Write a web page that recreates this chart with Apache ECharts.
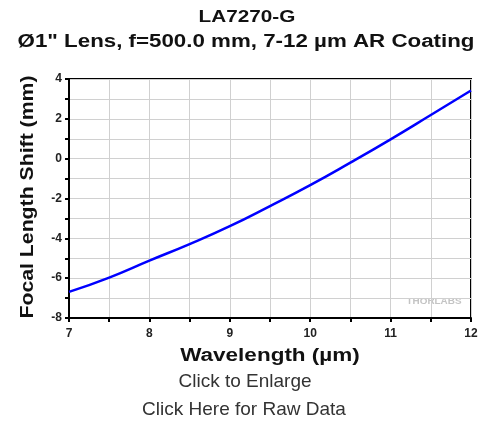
<!DOCTYPE html>
<html><head><meta charset="utf-8">
<script src="https://cdn.jsdelivr.net/npm/echarts@6/dist/echarts.min.js"></script>
<style>html,body{margin:0;padding:0;background:#fff}#c{width:494px;height:425px}</style>
</head><body><div id="c"></div>
<script>
const wavelength = [7, 7.5, 8, 8.5, 9, 9.5, 10, 10.5, 11, 11.5, 12];
const shift = [-6.69, -5.97, -5.12, -4.29, -3.39, -2.38, -1.33, -0.2, 0.97, 2.19, 3.42];
const titleText = 'LA7270-G';
const subtitleText = 'Ø1" Lens, f=500.0 mm, 7-12 µm AR Coating';
const xName = 'Wavelength (µm)';
const yName = 'Focal Length Shift (mm)';

const F = 'Arial, "Liberation Sans", sans-serif';
const chart = echarts.init(document.getElementById('c'));
chart.setOption({
  animation: false,
  grid: {left: 69, right: 23, top: 79, bottom: 107, show: true, borderColor: '#000', borderWidth: 2, backgroundColor: 'transparent'},
  graphic: [
    {type: 'text', x: 247, y: 17, scaleX: 1.22, style: {x: 0, y: 0, text: titleText, font: 'bold 17px ' + F, fill: '#111', align: 'center', verticalAlign: 'middle'}},
    {type: 'text', x: 246, y: 42, scaleX: 1.24, style: {x: 0, y: 0, text: subtitleText, font: 'bold 18px ' + F, fill: '#111', align: 'center', verticalAlign: 'middle'}},
    {type: 'text', x: 270, y: 356, scaleX: 1.25, style: {x: 0, y: 0, text: xName, font: 'bold 18px ' + F, fill: '#111', align: 'center', verticalAlign: 'middle'}},
    {type: 'text', x: 28, y: 197, rotation: Math.PI / 2, scaleX: 1.18, style: {x: 0, y: 0, text: yName, font: 'bold 18px ' + F, fill: '#111', align: 'center', verticalAlign: 'middle'}},
    {type: 'text', x: 245, y: 382, style: {x: 0, y: 0, text: 'Click to Enlarge', font: '19px ' + F, fill: '#333', align: 'center', verticalAlign: 'middle'}},
    {type: 'text', x: 244, y: 410, style: {x: 0, y: 0, text: 'Click Here for Raw Data', font: '19px ' + F, fill: '#333', align: 'center', verticalAlign: 'middle'}},
    {type: 'text', x: 434, y: 302, scaleX: 1.1, style: {x: 0, y: 0, text: 'THORLABS', font: 'bold 9px ' + F, fill: '#c4c4c4', align: 'center', verticalAlign: 'middle'}}
  ],
  xAxis: {
    type: 'value', min: 7, max: 12, interval: 0.5,
    axisLine: {show: true, onZero: false, lineStyle: {color: '#000', width: 2}},
    axisTick: {show: true, length: 4, lineStyle: {color: '#000', width: 2}},
    axisLabel: {margin: 10, fontFamily: F, fontWeight: 'bold', fontSize: 12, color: '#222',
      formatter: v => Number.isInteger(v) ? String(v) : ''},
    splitLine: {show: true, lineStyle: {color: '#d0d0d0', width: 1}}
  },
  yAxis: {
    type: 'value', min: -8, max: 4, interval: 1,
    axisLine: {show: true, onZero: false, lineStyle: {color: '#000', width: 2}},
    axisTick: {show: true, length: 4, lineStyle: {color: '#000', width: 2}},
    axisLabel: {margin: 7, fontFamily: F, fontWeight: 'bold', fontSize: 12, color: '#222',
      formatter: v => (v % 2 === 0) ? String(v) : ''},
    splitLine: {show: true, lineStyle: {color: '#d0d0d0', width: 1}}
  },
  series: [{
    type: 'line', data: wavelength.map((x, i) => [x, shift[i]]),
    smooth: true, showSymbol: false, lineStyle: {color: '#0000ff', width: 2.5}
  }]
});
</script></body></html>
